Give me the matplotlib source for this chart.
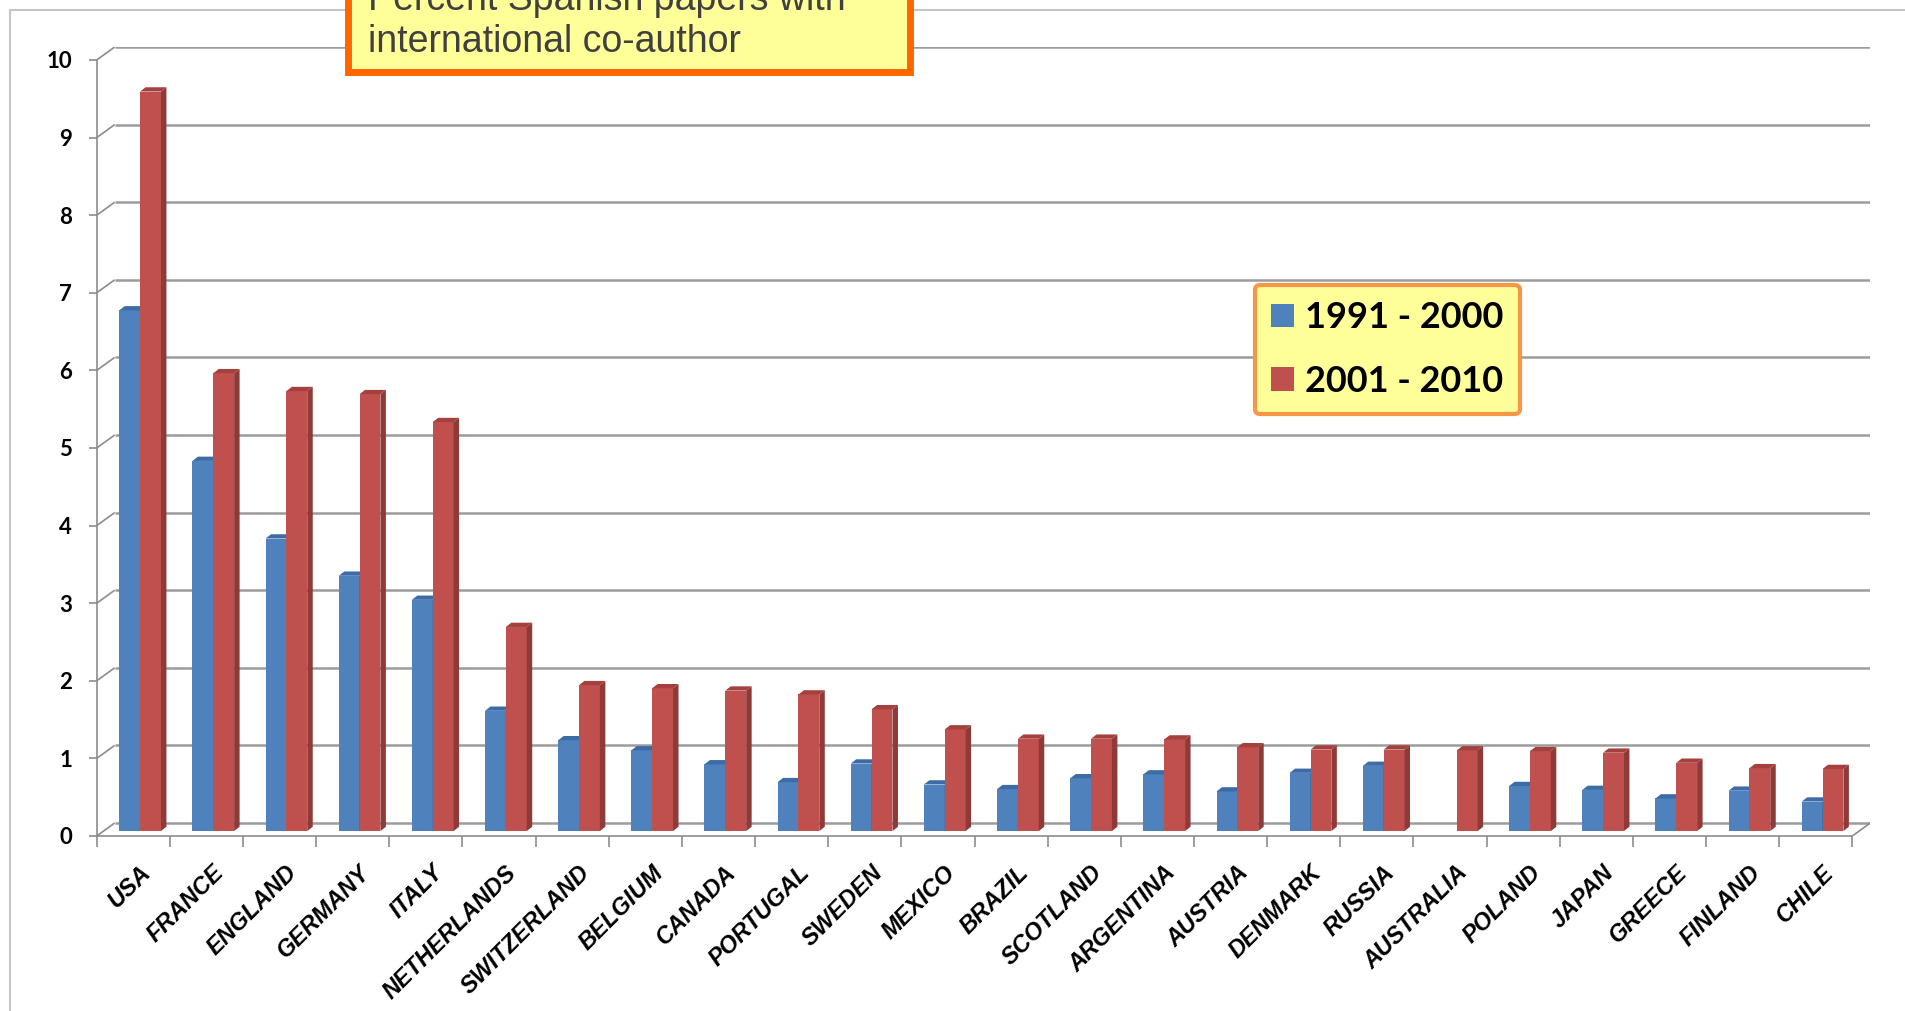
import matplotlib
matplotlib.use('Agg')
import matplotlib.pyplot as plt
import matplotlib.transforms as mtransforms
from matplotlib.patches import Patch, Rectangle
from matplotlib.collections import PolyCollection, LineCollection
from matplotlib.lines import Line2D
import numpy as np

# ---------------- data ----------------
countries = ['USA', 'FRANCE', 'ENGLAND', 'GERMANY', 'ITALY', 'NETHERLANDS',
             'SWITZERLAND', 'BELGIUM', 'CANADA', 'PORTUGAL', 'SWEDEN', 'MEXICO',
             'BRAZIL', 'SCOTLAND', 'ARGENTINA', 'AUSTRIA', 'DENMARK', 'RUSSIA',
             'AUSTRALIA', 'POLAND', 'JAPAN', 'GREECE', 'FINLAND', 'CHILE']
p1991_2000 = [6.71, 4.77, 3.77, 3.29, 2.98, 1.55, 1.17, 1.04, 0.86, 0.63, 0.87, 0.60,
              0.54, 0.68, 0.73, 0.51, 0.75, 0.84, 0.00, 0.58, 0.53, 0.42, 0.52, 0.38]
p2001_2010 = [9.53, 5.90, 5.67, 5.63, 5.27, 2.63, 1.88, 1.84, 1.81, 1.76, 1.57, 1.31,
              1.19, 1.19, 1.18, 1.08, 1.05, 1.05, 1.04, 1.03, 1.01, 0.88, 0.81, 0.80]
series_labels = ['1991 - 2000', '2001 - 2010']
yticks = list(range(0, 11))
title_lines = ['Percent Spanish papers with', 'international co-author']

# ---------------- style ----------------
W, H = 1905, 1011
front_cols = ['#4F81BD', '#C0504D']
side_cols = ['#375E8E', '#8E3A38']
top_cols = ['#3C6BA6', '#A4403D']
grid_col = '#9C9C9C'
axis_col = '#8C8C8C'

plt.rcParams['font.family'] = ['Lato', 'DejaVu Sans']

fig = plt.figure(figsize=(W / 100, H / 100), dpi=100)
fig.patch.set_facecolor('white')

# geometry (pixels)
x0_px, cat_px = 96.7, 73.15
y0_px, unit_px = 836.0, 77.6
dx_w = 18 / cat_px          # wall depth in category units
dy_w = 13 / unit_px         # wall depth in value units
f_depth = 0.38              # bars sit part-way into the depth
bw = 0.285                  # bar front width
ddx, ddy = 0.075, 0.055     # bar depth

n = len(countries)
ax = fig.add_axes([x0_px / W, (H - y0_px) / H,
                   (n + dx_w) * cat_px / W, (10 + dy_w) * unit_px / H])
ax.set_xlim(-0.5, n - 0.5 + dx_w)
ax.set_ylim(0, 10 + dy_w)
ax.patch.set_alpha(0)

# back wall gridlines and diagonal connectors
ax.hlines(np.array(yticks) + dy_w, -0.5 + dx_w, n - 0.5 + dx_w,
          colors=grid_col, linewidth=1.8, zorder=1)
diag = [[(-0.5, k), (-0.5 + dx_w, k + dy_w)] for k in yticks]
diag.append([(n - 0.5, 0), (n - 0.5 + dx_w, dy_w)])
ax.add_collection(LineCollection(diag, colors=axis_col, linewidth=1.2, zorder=1))

# bars
base = f_depth * dy_w
xs = np.arange(n)
for s, vals in enumerate([p1991_2000, p2001_2010]):
    vals = np.asarray(vals)
    left = xs - bw + s * bw + f_depth * dx_w
    ax.bar(left, vals, width=bw, bottom=base, align='edge',
           color=front_cols[s], linewidth=0, zorder=3 + s)
    sides, tops = [], []
    for xl, v in zip(left, vals):
        if v <= 0:
            continue
        xr = xl + bw
        yt = base + v
        sides.append([(xr, base), (xr + ddx, base + ddy), (xr + ddx, yt + ddy), (xr, yt)])
        tops.append([(xl, yt), (xl + ddx, yt + ddy), (xr + ddx, yt + ddy), (xr, yt)])
    ax.add_collection(PolyCollection(sides, facecolors=side_cols[s], linewidths=0, zorder=3 + s))
    ax.add_collection(PolyCollection(tops, facecolors=top_cols[s], linewidths=0, zorder=3 + s))

# spines
for sp in ['top', 'right']:
    ax.spines[sp].set_visible(False)
ax.spines['left'].set_bounds(0, 10)
ax.spines['bottom'].set_bounds(-0.5, n - 0.5)
for sp in ['left', 'bottom']:
    ax.spines[sp].set_color(axis_col)
    ax.spines[sp].set_linewidth(1.2)

# y ticks
ax.set_yticks(yticks)
ax.set_yticklabels([str(t) for t in yticks])
ax.tick_params(axis='y', direction='out', length=5.8, width=1.2, color=axis_col,
               pad=12, labelsize=16)
for lab in ax.get_yticklabels():
    lab.set_fontweight('bold')

# x ticks
ax.set_xticks(xs)
ax.set_xticklabels(countries, rotation=45, ha='right', va='top', rotation_mode='anchor')
ax.set_xticks(np.arange(-0.5, n), minor=True)
ax.tick_params(axis='x', which='major', length=0, pad=18, labelsize=17)
ax.tick_params(axis='x', which='minor', direction='out', length=8, width=1.2, color=axis_col)
shift = mtransforms.ScaledTranslation(6 / 100, 0, fig.dpi_scale_trans)
for lab in ax.get_xticklabels():
    lab.set_family('Liberation Sans')
    lab.set_fontweight('bold')
    lab.set_fontstyle('italic')
    lab.set_transform(lab.get_transform() + shift)

# legend
handles = [Patch(facecolor=c, edgecolor='none') for c in front_cols]
leg = ax.legend(handles, series_labels, loc='upper left',
                bbox_to_anchor=(1255 / W, 1 - 285 / H), bbox_transform=fig.transFigure,
                prop={'family': 'Lato', 'weight': 'bold', 'size': 26},
                frameon=True, fancybox=True, facecolor='#FFFF99', edgecolor='#F79646',
                framealpha=1, borderpad=0.45, labelspacing=0.85, handlelength=0.64,
                handleheight=0.64, handletextpad=0.3, borderaxespad=0)
leg.get_frame().set_linewidth(3)
leg.get_frame().set_boxstyle('round,pad=0,rounding_size=0.15')
leg.set_zorder(10)

# outer chart border
fig.add_artist(Line2D([10 / W, 1.0], [1 - 10 / H, 1 - 10 / H], color='#C4C4C4', linewidth=1.5))
fig.add_artist(Line2D([10 / W, 10 / W], [0, 1 - 10 / H], color='#C4C4C4', linewidth=1.5))

# title box (its first line runs off the top edge, as in the source slide)
fig.add_artist(Rectangle((347.5 / W, 1 - 71.5 / H), (909.5 - 347.5) / W, 0.2,
                         facecolor='#FFFF99', edgecolor='#FF6600', linewidth=5.0,
                         zorder=20))
for line, ybase in zip(title_lines, [10, 52]):
    fig.text(368 / W, 1 - ybase / H, line, fontsize=27, family='Liberation Sans',
             color='#404040', va='baseline', ha='left', zorder=21)

fig.savefig('out.png', dpi=100)
